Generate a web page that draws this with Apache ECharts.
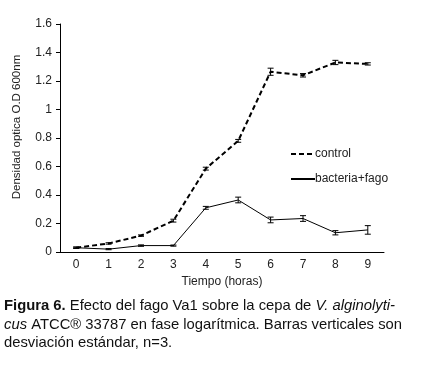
<!DOCTYPE html>
<html>
<head>
<meta charset="utf-8">
<script src="https://cdn.jsdelivr.net/npm/echarts@6/dist/echarts.min.js"></script>
<style>
  html, body { margin: 0; padding: 0; background: #fff; }
  #chart { width: 437px; height: 375px; }
</style>
</head>
<body>
<div id="chart"></div>
<script>
var hours = ["0", "1", "2", "3", "4", "5", "6", "7", "8", "9"];
var control = [0.03, 0.06, 0.115, 0.22, 0.585, 0.78, 1.265, 1.24, 1.33, 1.32];
var controlErr = [0.005, 0.005, 0.005, 0.01, 0.01, 0.01, 0.025, 0.012, 0.015, 0.008];
var fago = [0.03, 0.02, 0.045, 0.045, 0.31, 0.365, 0.225, 0.235, 0.135, 0.155];
var fagoErr = [0.004, 0.004, 0.005, 0.004, 0.01, 0.02, 0.02, 0.02, 0.015, 0.03];

var font = "'Liberation Sans', Arial, sans-serif";

function errData(vals, errs) {
  return vals.map(function (v, i) {
    return [i, v - errs[i], v + errs[i]];
  });
}

function renderErr(params, api) {
  var x = api.value(0);
  var lo = api.coord([x, api.value(1)]);
  var hi = api.coord([x, api.value(2)]);
  var w = 3;
  var st = { stroke: "#000", lineWidth: 1 };
  return {
    type: "group",
    children: [
      { type: "line", shape: { x1: lo[0], y1: lo[1], x2: hi[0], y2: hi[1] }, style: st },
      { type: "line", shape: { x1: lo[0] - w, y1: lo[1], x2: lo[0] + w, y2: lo[1] }, style: st },
      { type: "line", shape: { x1: hi[0] - w, y1: hi[1], x2: hi[0] + w, y2: hi[1] }, style: st }
    ]
  };
}

var chart = echarts.init(document.getElementById("chart"));
chart.setOption({
  animation: false,
  grid: { left: 60, right: 53, top: 24, bottom: 123 },
  legend: {
    orient: "vertical",
    left: 285,
    top: 143,
    itemWidth: 24,
    itemHeight: 10,
    itemGap: 13,
    data: ["control", "bacteria+fago"],
    itemStyle: { opacity: 0 },
    textStyle: { fontFamily: font, fontSize: 12, color: "#222", padding: [0, 0, 0, -5] }
  },
  xAxis: {
    type: "category",
    data: hours,
    boundaryGap: true,
    name: "Tiempo (horas)",
    nameLocation: "middle",
    nameGap: 24,
    nameTextStyle: { fontFamily: font, fontSize: 12, color: "#222" },
    axisLine: { lineStyle: { color: "#000" } },
    axisTick: { alignWithLabel: false, length: 4, lineStyle: { color: "#000" } },
    axisLabel: { fontFamily: font, fontSize: 12, color: "#222", margin: 7 }
  },
  yAxis: {
    type: "value",
    min: 0,
    max: 1.6,
    interval: 0.2,
    axisLine: { show: true, lineStyle: { color: "#000" } },
    axisTick: { show: true, length: 4, lineStyle: { color: "#000" } },
    splitLine: { show: false },
    axisLabel: {
      fontFamily: font, fontSize: 12, color: "#222", margin: 8,
      formatter: function (v) { return Number(v.toFixed(1)).toString(); }
    }
  },
  series: [
    {
      name: "control",
      type: "line",
      data: control,
      symbol: "none",
      lineStyle: { color: "#000", width: 2, type: [5, 3] },
      itemStyle: { color: "#000" }
    },
    {
      name: "bacteria+fago",
      type: "line",
      data: fago,
      symbol: "none",
      lineStyle: { color: "#000", width: 1 },
      itemStyle: { color: "#000" }
    },
    {
      type: "custom",
      renderItem: renderErr,
      data: errData(control, controlErr),
      encode: { x: 0, y: [1, 2] },
      z: 5
    },
    {
      type: "custom",
      renderItem: renderErr,
      data: errData(fago, fagoErr),
      encode: { x: 0, y: [1, 2] },
      z: 5
    }
  ],
  graphic: [
    {
      type: "text",
      x: 17,
      y: 127,
      rotation: Math.PI / 2,
      style: {
        text: "Densidad optica O.D 600nm",
        fontFamily: font,
        fontSize: 11.5,
        fill: "#222",
        align: "center",
        verticalAlign: "middle"
      }
    },
    {
      type: "text",
      left: 4,
      top: 297,
      style: {
        text: "{b|Figura 6.} Efecto del fago Va1 sobre la cepa de {i|V. alginolyti-}\n{i|cus} ATCC® 33787 en fase logarítmica. Barras verticales son\ndesviación estándar, n=3.",
        fontFamily: font,
        fontSize: 14.8,
        lineHeight: 18.5,
        fill: "#111",
        rich: {
          b: { fontWeight: "bold", fontFamily: font, fontSize: 14.8, fill: "#111" },
          i: { fontStyle: "italic", fontFamily: font, fontSize: 14.8, fill: "#111" }
        }
      }
    }
  ]
});
</script>
</body>
</html>
